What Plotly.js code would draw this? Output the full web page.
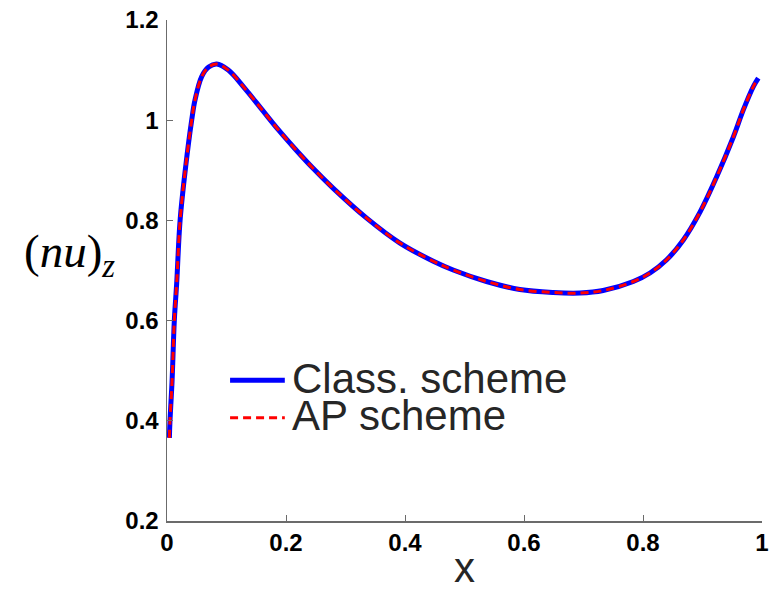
<!DOCTYPE html>
<html>
<head>
<meta charset="utf-8">
<script src="https://cdn.plot.ly/plotly-3.0.1.min.js"></script>
<style>
  html, body { margin: 0; padding: 0; background: #fff; }
  #chart { width: 769px; height: 591px; }
</style>
</head>
<body>
<div id="chart"></div>
<script>
// Grid points along x
const xs = [0.004, 0.005, 0.0084, 0.0123, 0.0163, 0.022, 0.0314, 0.0415, 0.047, 0.0583,
            0.07, 0.0835, 0.103, 0.131, 0.159, 0.187, 0.215, 0.243, 0.2795, 0.3356,
            0.3916, 0.4476, 0.481, 0.537, 0.593, 0.649, 0.694, 0.733, 0.7837, 0.8118,
            0.8398, 0.8678, 0.896, 0.924, 0.952, 0.9686, 0.9854, 0.9938];

// (nu)_z computed with the classical scheme
const classScheme = [0.366, 0.40, 0.476, 0.60, 0.675, 0.80, 0.9075, 1.0, 1.04, 1.087,
                     1.106, 1.112, 1.100, 1.063, 1.022, 0.981, 0.943, 0.907, 0.864, 0.8045,
                     0.7547, 0.7185, 0.701, 0.678, 0.662, 0.656, 0.655, 0.660, 0.678, 0.695,
                     0.7214, 0.761, 0.817, 0.8875, 0.967, 1.0205, 1.067, 1.084];

// (nu)_z computed with the asymptotic-preserving scheme
const apScheme = [0.366, 0.40, 0.476, 0.60, 0.675, 0.80, 0.9075, 1.0, 1.04, 1.087,
                  1.106, 1.112, 1.100, 1.063, 1.022, 0.981, 0.943, 0.907, 0.864, 0.8045,
                  0.7547, 0.7185, 0.701, 0.678, 0.662, 0.656, 0.655, 0.660, 0.678, 0.695,
                  0.7214, 0.761, 0.817, 0.8875, 0.967, 1.0205, 1.067, 1.084];

const seriesNames = ['Class. scheme', 'AP scheme'];
const xTicks = [0, 0.2, 0.4, 0.6, 0.8, 1];
const xTickText = ['0', '0.2', '0.4', '0.6', '0.8', '1'];
const yTicks = [0.2, 0.4, 0.6, 0.8, 1, 1.2];
const yTickText = ['0.2', '0.4', '0.6', '0.8', '1', '1.2'];

const axisColor = '#6b6b6b';
const tickFont = { family: 'Liberation Sans, Arial, sans-serif', size: 24, color: '#000', weight: 'bold' };
const textColor = '#262626';
const labelFont = { family: 'Liberation Sans, Arial, sans-serif', size: 42, color: textColor };

const traces = [
  {
    x: xs, y: classScheme, name: seriesNames[0], type: 'scatter', mode: 'lines',
    line: { color: '#0000ff', width: 5, shape: 'spline', smoothing: 1 },
    showlegend: false
  },
  {
    x: xs, y: apScheme, name: seriesNames[1], type: 'scatter', mode: 'lines',
    line: { color: '#ff0000', width: 3, dash: '8px,5px', shape: 'spline', smoothing: 1 },
    showlegend: false
  }
];

// Legend drawn as sample lines plus labels in the lower-left of the axes
const legX0 = 0.106, legX1 = 0.198, legTextX = 0.207;
const legRowY = [0.281, 0.206];

const layout = {
  width: 769, height: 591,
  margin: { l: 167, r: 7, t: 20, b: 70 },
  paper_bgcolor: '#fff', plot_bgcolor: '#fff',
  showlegend: false,
  xaxis: {
    range: [0, 1], tickvals: xTicks, ticktext: xTickText,
    showgrid: false, zeroline: false, showline: true, linecolor: axisColor, linewidth: 1.5,
    ticks: 'inside', ticklen: 6, tickcolor: axisColor, tickwidth: 1,
    tickfont: tickFont,
    title: { text: 'x', font: labelFont, standoff: 5 }
  },
  yaxis: {
    range: [0.2, 1.2], tickvals: yTicks, ticktext: yTickText,
    showgrid: false, zeroline: false, showline: true, linecolor: axisColor, linewidth: 1.5,
    ticks: 'inside', ticklen: 6, tickcolor: axisColor, tickwidth: 1,
    tickfont: tickFont, ticklabelstandoff: 2
  },
  shapes: [
    { type: 'line', xref: 'paper', yref: 'paper', x0: legX0, x1: legX1, y0: legRowY[0], y1: legRowY[0],
      line: { color: '#0000ff', width: 5 } },
    { type: 'line', xref: 'paper', yref: 'paper', x0: legX0, x1: legX1, y0: legRowY[1], y1: legRowY[1],
      line: { color: '#ff0000', width: 3, dash: '8px,5px' } }
  ],
  annotations: [
    { xref: 'paper', yref: 'paper', x: legTextX, y: legRowY[0] + 0.004, xanchor: 'left', yanchor: 'middle',
      text: seriesNames[0], showarrow: false, font: labelFont },
    { xref: 'paper', yref: 'paper', x: legTextX, y: legRowY[1] + 0.004, xanchor: 'left', yanchor: 'middle',
      text: seriesNames[1], showarrow: false, font: labelFont },
    { xref: 'paper', yref: 'paper', x: -0.2437, y: 0.531, xanchor: 'left', yanchor: 'middle',
      text: '(<i>nu</i>)<sub><i>z</i></sub>', showarrow: false,
      font: { family: 'Liberation Serif, Times New Roman, serif', size: 47, color: '#000' } }
  ]
};

Plotly.newPlot('chart', traces, layout, { displayModeBar: false, staticPlot: true });
</script>
</body>
</html>
